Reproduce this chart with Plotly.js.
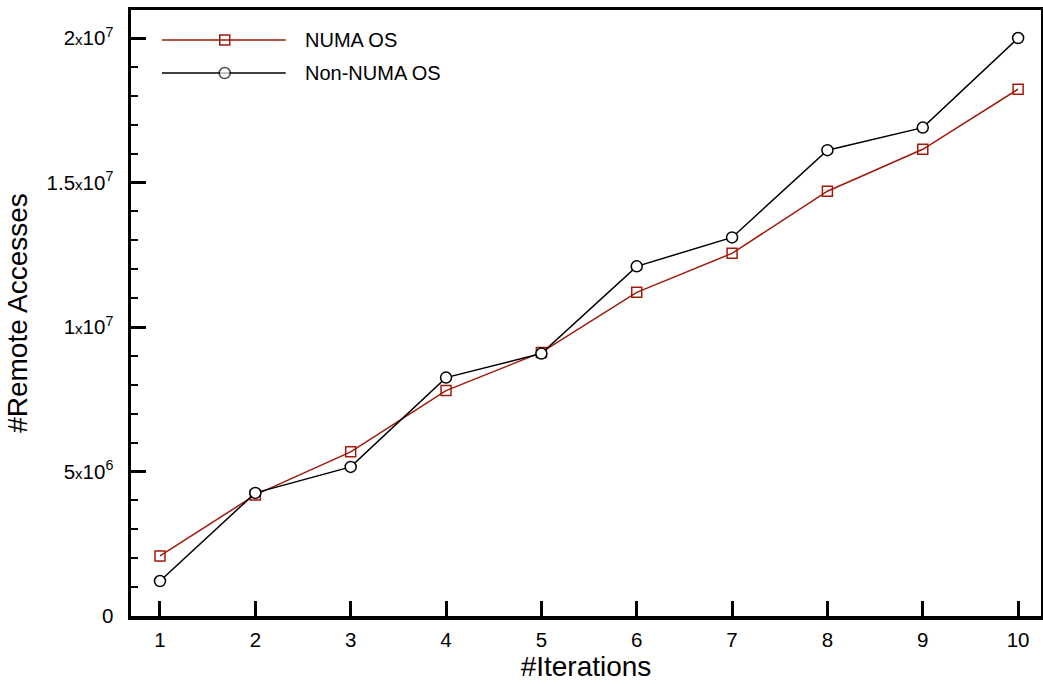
<!DOCTYPE html>
<html>
<head>
<meta charset="utf-8">
<script src="https://cdn.plot.ly/plotly-3.0.1.min.js"></script>
<style>html,body{margin:0;padding:0;background:#fff;}#chart{width:1043px;height:684px;}</style>
</head>
<body>
<div id="chart"></div>
<script>
const iterations = [1, 2, 3, 4, 5, 6, 7, 8, 9, 10];
const numaOS = [2.08e6, 4.19e6, 5.68e6, 7.80e6, 9.12e6, 1.12e7, 1.255e7, 1.47e7, 1.615e7, 1.823e7];
const nonNumaOS = [1.21e6, 4.26e6, 5.16e6, 8.25e6, 9.08e6, 1.21e7, 1.31e7, 1.612e7, 1.69e7, 2.0e7];
const seriesNames = ['NUMA OS', 'Non-NUMA OS'];
const yTickVals = [0, 5e6, 1e7, 1.5e7, 2e7];
const yTickText = ['0',
  '5<span style="font-size:15px">x</span>10<sup>6</sup>',
  '1<span style="font-size:15px">x</span>10<sup>7</sup>',
  '1.5<span style="font-size:15px">x</span>10<sup>7</sup>',
  '2<span style="font-size:15px">x</span>10<sup>7</sup>'];

const red = '#a01a0a';
const black = '#000000';
const font = 'Liberation Sans, Arial, Helvetica, sans-serif';

const traces = [
  {x: iterations, y: numaOS, name: seriesNames[0], mode: 'lines+markers',
   line: {color: red, width: 1.5},
   marker: {symbol: 'square-open', size: 10, color: red, line: {width: 1.5, color: red}}},
  {x: iterations, y: nonNumaOS, name: seriesNames[1], mode: 'lines+markers',
   line: {color: black, width: 1.5},
   marker: {symbol: 'circle', size: 11, color: '#fff', line: {width: 1.5, color: black}}},
  // custom legend samples on hidden overlay axes
  {x: [0.034, 0.103, 0.170], y: [0.9505, 0.9505, 0.9505], xaxis: 'x2', yaxis: 'y2', mode: 'lines',
   line: {color: red, width: 1.5}, showlegend: false, hoverinfo: 'skip'},
  {x: [0.103], y: [0.9505], xaxis: 'x2', yaxis: 'y2', mode: 'markers',
   marker: {symbol: 'square-open', size: 10, color: red, line: {width: 1.5, color: red}}, showlegend: false, hoverinfo: 'skip'},
  {x: [0.034, 0.103, 0.170], y: [0.896, 0.896, 0.896], xaxis: 'x2', yaxis: 'y2', mode: 'lines+markers',
   line: {color: black, width: 1.5},
   marker: {symbol: 'circle', size: [0, 11, 0], color: '#fff', line: {width: [0, 1.5, 0], color: black}}, showlegend: false, hoverinfo: 'skip'}
];

const layout = {
  width: 1043, height: 684,
  margin: {l: 131, r: 2, t: 10, b: 68},
  paper_bgcolor: '#fff', plot_bgcolor: '#fff',
  showlegend: false,
  font: {family: font, color: '#000', size: 20},
  xaxis: {
    range: [0.696, 10.24], tickmode: 'array', tickvals: iterations,
    ticks: 'inside', ticklen: 15, tickwidth: 3, tickcolor: '#000',
    showline: true, linewidth: 3.5, linecolor: '#000', mirror: true,
    showgrid: false, zeroline: false,
    ticklabelstandoff: 3,
    tickfont: {size: 20.5, family: font},
    title: {text: '#Iterations', font: {size: 28, family: font}, standoff: 4}
  },
  yaxis: {
    range: [0, 2.097e7], tickmode: 'array', tickvals: yTickVals, ticktext: yTickText,
    ticks: 'inside', ticklen: 15, tickwidth: 3, tickcolor: '#000',
    minor: {tickmode: 'linear', tick0: 0, dtick: 1e6, ticks: 'inside', ticklen: 7, tickwidth: 2, tickcolor: '#000', showgrid: false},
    showline: true, linewidth: 3.5, linecolor: '#000', mirror: true,
    showgrid: false, zeroline: false,
    ticklabelstandoff: 10,
    tickfont: {size: 20.5, family: font},
    title: {text: '#Remote Accesses', font: {size: 28, family: font}, standoff: 12}
  },
  xaxis2: {overlaying: 'x', range: [0, 1], visible: false, fixedrange: true},
  yaxis2: {overlaying: 'y', range: [0, 1], visible: false, fixedrange: true},
  annotations: [
    {xref: 'paper', yref: 'paper', x: 0.1885, y: 0.9505, xanchor: 'left', yanchor: 'middle', showarrow: false,
     text: seriesNames[0], font: {size: 20, family: font, color: '#000'}},
    {xref: 'paper', yref: 'paper', x: 0.1885, y: 0.896, xanchor: 'left', yanchor: 'middle', showarrow: false,
     text: seriesNames[1], font: {size: 20, family: font, color: '#000'}}
  ]
};

Plotly.newPlot('chart', traces, layout, {displayModeBar: false, staticPlot: true});
</script>
</body>
</html>
